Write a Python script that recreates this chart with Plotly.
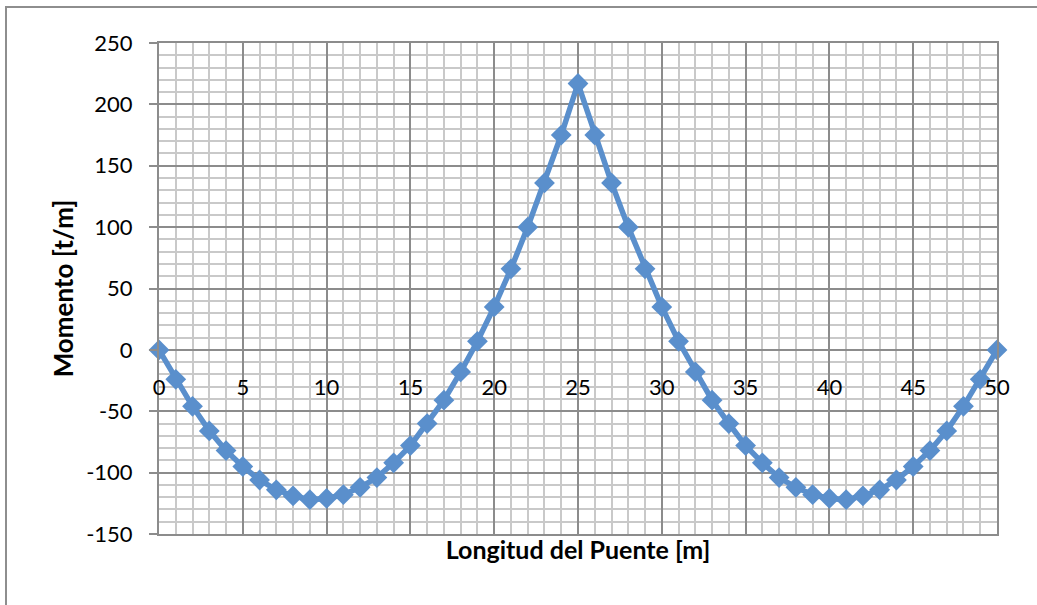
import plotly.graph_objects as go

# Bending moment along a two-span bridge (station in m, moment in t/m)
stations = list(range(0, 51))
moment_first_half = [0, -24, -46, -66, -82, -95, -106, -114, -119, -122, -121,
                     -118, -112, -104, -92, -78, -60, -41, -18, 7, 35,
                     66, 100, 136, 175]
moment_peak = [217]
moment = moment_first_half + moment_peak + moment_first_half[::-1]

x_ticks = list(range(0, 51, 5))
y_ticks = list(range(-150, 251, 50))

W, H = 1037, 605
L, R, T, B = 159, 40, 43, 71
plot_w = W - L - R
plot_h = H - T - B

MAJOR = "#8c8c8c"
MINOR = "#c9c9c9"
SERIES = "#5a8fcc"
FONT = "Lato, Carlito, Calibri, sans-serif"

fig = go.Figure()
fig.add_trace(go.Scatter(
    x=stations, y=moment, mode="lines+markers",
    line=dict(color=SERIES, width=5.5),
    marker=dict(symbol="diamond", size=16, color=SERIES, line=dict(width=0)),
    showlegend=False, cliponaxis=False,
))
# Empty trace so the axis carrying the x labels on the zero line is drawn
fig.add_trace(go.Scatter(
    x=[x_ticks[0], x_ticks[-1]], y=[None, None], xaxis="x2", yaxis="y",
    mode="lines", showlegend=False, hoverinfo="skip",
))

y_min, y_max = -150, 250

fig.update_layout(
    width=W, height=H, autosize=False,
    margin=dict(l=L, r=R, t=T, b=B, pad=0),
    paper_bgcolor="white", plot_bgcolor="white",
    font=dict(family=FONT, size=22, color="black"),
    xaxis=dict(
        range=[0, 50], dtick=5, tick0=0,
        showgrid=True, gridcolor=MAJOR, gridwidth=2,
        minor=dict(dtick=1, tick0=0, showgrid=True, gridcolor=MINOR, gridwidth=1.5),
        showticklabels=False, ticks="",
        showline=True, mirror=True, linecolor=MAJOR, linewidth=2,
        zeroline=False,
        title=dict(text="<b>Longitud del Puente [m]</b>",
                   font=dict(family=FONT, size=25), standoff=6),
    ),
    xaxis2=dict(
        overlaying="x", anchor="free", side="bottom",
        position=(0 - y_min) / (y_max - y_min),
        range=[0, 50], tickmode="array", tickvals=x_ticks,
        ticktext=[str(v) for v in x_ticks],
        showgrid=False, zeroline=False, showline=False, ticks="",
        tickfont=dict(family=FONT, size=22),
        ticklabelstandoff=22,
    ),
    yaxis=dict(
        range=[y_min, y_max], tickmode="array", tickvals=y_ticks,
        ticktext=[str(v) for v in y_ticks],
        showgrid=True, gridcolor=MAJOR, gridwidth=2,
        minor=dict(dtick=10, tick0=0, showgrid=True, gridcolor=MINOR, gridwidth=1.5),
        ticks="outside", ticklen=8, tickwidth=2, tickcolor=MAJOR,
        ticklabelstandoff=12,
        showline=True, mirror=True, linecolor=MAJOR, linewidth=2,
        zeroline=False,
        tickfont=dict(family=FONT, size=22),
        title=dict(text="<b>Momento [t/m]</b>",
                   font=dict(family=FONT, size=26), standoff=5),
    ),
)

# Chart-area frame running off the right and bottom edges
def px_to_paper_x(px):
    return (px - L) / plot_w

def px_to_paper_y(py):
    return (H - B - py) / plot_h

fig.add_shape(
    type="rect", xref="paper", yref="paper",
    x0=px_to_paper_x(6), x1=px_to_paper_x(W + 10),
    y0=px_to_paper_y(H + 10), y1=px_to_paper_y(7),
    line=dict(color="#8e8e8e", width=2), fillcolor="rgba(0,0,0,0)",
    layer="above",
)

fig.write_html("out.html")
